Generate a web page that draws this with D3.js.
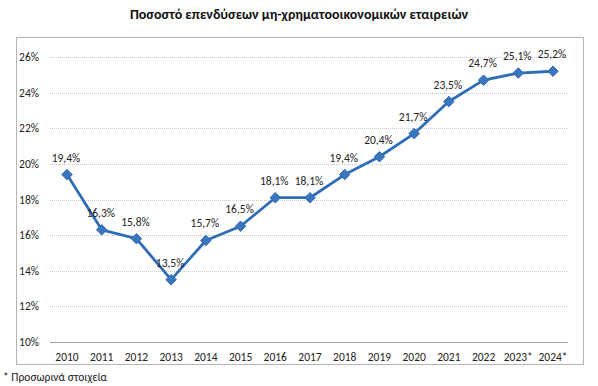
<!DOCTYPE html>
<html>
<head>
<meta charset="utf-8">
<script src="https://cdn.jsdelivr.net/npm/d3@7"></script>
<style>
  body { margin: 0; background: #fff; }
  svg text { font-family: Carlito, Lato, "Open Sans", "Liberation Sans", sans-serif; }
</style>
</head>
<body>
<svg id="chart" width="598" height="386"></svg>
<script>
// data
const years = ["2010", "2011", "2012", "2013", "2014", "2015", "2016", "2017",
  "2018", "2019", "2020", "2021", "2022", "2023*", "2024*"];
const shares = [19.4, 16.3, 15.8, 13.5, 15.7, 16.5, 18.1, 18.1, 19.4, 20.4, 21.7, 23.5, 24.7, 25.1, 25.2];
const yTicks = [10, 12, 14, 16, 18, 20, 22, 24, 26];

const svg = d3.select("#chart");

// title
svg.append("text")
  .attr("x", 299).attr("y", 19)
  .attr("text-anchor", "middle")
  .attr("font-size", "14px")
  .attr("font-weight", "bold")
  .attr("fill", "#111")
  .text("Ποσοστό επενδύσεων μη-χρηματοοικονομικών εταιρειών");

// outer frame
svg.append("rect")
  .attr("x", 16.5).attr("y", 37.5)
  .attr("width", 567).attr("height", 327)
  .attr("fill", "none")
  .attr("stroke", "#b5b5b5")
  .attr("stroke-width", 1);

const x = d3.scalePoint().domain(years).range([67, 553]);
const y = d3.scaleLinear().domain([10, 26]).range([342, 57]);

// gridlines
svg.append("g")
  .selectAll("line")
  .data(yTicks.slice(1))
  .join("line")
  .attr("x1", 50).attr("x2", 568)
  .attr("y1", d => Math.round(y(d)) + 0.5)
  .attr("y2", d => Math.round(y(d)) + 0.5)
  .attr("stroke", "#c8c8c8")
  .attr("stroke-dasharray", "1,1");

// base axis line
svg.append("line")
  .attr("x1", 50).attr("x2", 568)
  .attr("y1", Math.round(y(10)) + 0.5).attr("y2", Math.round(y(10)) + 0.5)
  .attr("stroke", "#a6a6a6");

// y tick labels
svg.append("g")
  .selectAll("text")
  .data(yTicks)
  .join("text")
  .attr("x", 39)
  .attr("y", d => y(d) + 4)
  .attr("text-anchor", "end")
  .attr("font-size", "11.5px")
  .attr("fill", "#222")
  .text(d => d + "%");

// x tick labels
svg.append("g")
  .selectAll("text")
  .data(years)
  .join("text")
  .attr("x", d => x(d))
  .attr("y", 361)
  .attr("text-anchor", "middle")
  .attr("font-size", "11.5px")
  .attr("fill", "#222")
  .text(d => d);

// line
const line = d3.line()
  .x((d, i) => x(years[i]))
  .y(d => y(d));

svg.append("path")
  .datum(shares)
  .attr("d", line)
  .attr("fill", "none")
  .attr("stroke", "#2f6db5")
  .attr("stroke-width", 2.8)
  .attr("stroke-linejoin", "round");

// diamond markers
svg.append("g")
  .selectAll("path")
  .data(shares)
  .join("path")
  .attr("d", d3.symbol().type(d3.symbolDiamond2).size(70))
  .attr("transform", (d, i) => `translate(${x(years[i])},${y(d)})`)
  .attr("fill", "#3a75bd")
  .attr("stroke", "#2f6db5")
  .attr("stroke-width", 1);

// value labels
svg.append("g")
  .selectAll("text")
  .data(shares)
  .join("text")
  .attr("x", (d, i) => x(years[i]) - 1)
  .attr("y", d => y(d) - 13)
  .attr("text-anchor", "middle")
  .attr("font-size", "11.5px")
  .attr("fill", "#222")
  .text(d => d.toFixed(1).replace(".", ",") + "%");

// footnote
svg.append("text")
  .attr("x", 3).attr("y", 381)
  .attr("font-size", "11.5px")
  .attr("fill", "#222")
  .text("* Προσωρινά στοιχεία");
</script>
</body>
</html>
